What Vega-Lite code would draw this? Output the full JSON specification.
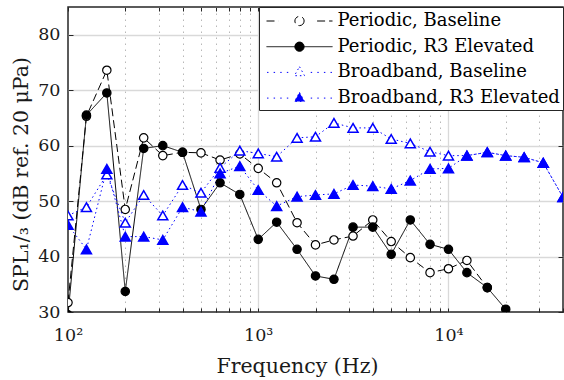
{
  "$schema": "https://vega.github.io/schema/vega-lite/v6.json",
  "width": 495,
  "height": 305,
  "autosize": {"type": "none"},
  "padding": {"left": 68, "top": 7, "right": 1, "bottom": 68},
  "background": "white",
  "config": {"view": {"stroke": "#262626", "strokeWidth": 1.5}, "font": "DejaVu Serif"},
  "data": {"values": [
    {"s": "Periodic, Baseline", "f": 100, "spl": 31.7},
    {"s": "Periodic, Baseline", "f": 125, "spl": 65.3},
    {"s": "Periodic, Baseline", "f": 160, "spl": 73.6},
    {"s": "Periodic, Baseline", "f": 200, "spl": 48.5},
    {"s": "Periodic, Baseline", "f": 250, "spl": 61.4},
    {"s": "Periodic, Baseline", "f": 315, "spl": 58.2},
    {"s": "Periodic, Baseline", "f": 400, "spl": 58.8},
    {"s": "Periodic, Baseline", "f": 500, "spl": 58.7},
    {"s": "Periodic, Baseline", "f": 630, "spl": 57.4},
    {"s": "Periodic, Baseline", "f": 800, "spl": 58.5},
    {"s": "Periodic, Baseline", "f": 1000, "spl": 55.9},
    {"s": "Periodic, Baseline", "f": 1250, "spl": 53.3},
    {"s": "Periodic, Baseline", "f": 1600, "spl": 46.1},
    {"s": "Periodic, Baseline", "f": 2000, "spl": 42.1},
    {"s": "Periodic, Baseline", "f": 2500, "spl": 43.0},
    {"s": "Periodic, Baseline", "f": 3150, "spl": 43.7},
    {"s": "Periodic, Baseline", "f": 4000, "spl": 46.6},
    {"s": "Periodic, Baseline", "f": 5000, "spl": 42.7},
    {"s": "Periodic, Baseline", "f": 6300, "spl": 39.8},
    {"s": "Periodic, Baseline", "f": 8000, "spl": 37.1},
    {"s": "Periodic, Baseline", "f": 10000, "spl": 37.8},
    {"s": "Periodic, Baseline", "f": 12500, "spl": 39.3},
    {"s": "Periodic, Baseline", "f": 16000, "spl": 34.4},
    {"s": "Periodic, R3 Elevated", "f": 100, "spl": 29.5},
    {"s": "Periodic, R3 Elevated", "f": 125, "spl": 65.5},
    {"s": "Periodic, R3 Elevated", "f": 160, "spl": 69.5},
    {"s": "Periodic, R3 Elevated", "f": 200, "spl": 33.7},
    {"s": "Periodic, R3 Elevated", "f": 250, "spl": 59.5},
    {"s": "Periodic, R3 Elevated", "f": 315, "spl": 60.0},
    {"s": "Periodic, R3 Elevated", "f": 400, "spl": 58.8},
    {"s": "Periodic, R3 Elevated", "f": 500, "spl": 48.5},
    {"s": "Periodic, R3 Elevated", "f": 630, "spl": 53.3},
    {"s": "Periodic, R3 Elevated", "f": 800, "spl": 51.2},
    {"s": "Periodic, R3 Elevated", "f": 1000, "spl": 43.1},
    {"s": "Periodic, R3 Elevated", "f": 1250, "spl": 46.2},
    {"s": "Periodic, R3 Elevated", "f": 1600, "spl": 41.3},
    {"s": "Periodic, R3 Elevated", "f": 2000, "spl": 36.5},
    {"s": "Periodic, R3 Elevated", "f": 2500, "spl": 35.9},
    {"s": "Periodic, R3 Elevated", "f": 3150, "spl": 45.3},
    {"s": "Periodic, R3 Elevated", "f": 4000, "spl": 45.3},
    {"s": "Periodic, R3 Elevated", "f": 5000, "spl": 40.4},
    {"s": "Periodic, R3 Elevated", "f": 6300, "spl": 46.6},
    {"s": "Periodic, R3 Elevated", "f": 8000, "spl": 42.2},
    {"s": "Periodic, R3 Elevated", "f": 10000, "spl": 41.3},
    {"s": "Periodic, R3 Elevated", "f": 12500, "spl": 37.1},
    {"s": "Periodic, R3 Elevated", "f": 16000, "spl": 34.4},
    {"s": "Periodic, R3 Elevated", "f": 20000, "spl": 30.5},
    {"s": "Broadband, Baseline", "f": 100, "spl": 47.4},
    {"s": "Broadband, Baseline", "f": 125, "spl": 48.9},
    {"s": "Broadband, Baseline", "f": 160, "spl": 54.8},
    {"s": "Broadband, Baseline", "f": 200, "spl": 46.1},
    {"s": "Broadband, Baseline", "f": 250, "spl": 51.1},
    {"s": "Broadband, Baseline", "f": 315, "spl": 47.4},
    {"s": "Broadband, Baseline", "f": 400, "spl": 52.9},
    {"s": "Broadband, Baseline", "f": 500, "spl": 51.5},
    {"s": "Broadband, Baseline", "f": 630, "spl": 56.0},
    {"s": "Broadband, Baseline", "f": 800, "spl": 59.1},
    {"s": "Broadband, Baseline", "f": 1000, "spl": 58.6},
    {"s": "Broadband, Baseline", "f": 1250, "spl": 58.0},
    {"s": "Broadband, Baseline", "f": 1600, "spl": 61.4},
    {"s": "Broadband, Baseline", "f": 2000, "spl": 61.6},
    {"s": "Broadband, Baseline", "f": 2500, "spl": 64.1},
    {"s": "Broadband, Baseline", "f": 3150, "spl": 63.2},
    {"s": "Broadband, Baseline", "f": 4000, "spl": 63.2},
    {"s": "Broadband, Baseline", "f": 5000, "spl": 61.2},
    {"s": "Broadband, Baseline", "f": 6300, "spl": 60.4},
    {"s": "Broadband, Baseline", "f": 8000, "spl": 58.9},
    {"s": "Broadband, Baseline", "f": 10000, "spl": 58.2},
    {"s": "Broadband, Baseline", "f": 12500, "spl": 58.2},
    {"s": "Broadband, Baseline", "f": 16000, "spl": 58.8},
    {"s": "Broadband, Baseline", "f": 20000, "spl": 58.2},
    {"s": "Broadband, Baseline", "f": 25000, "spl": 57.9},
    {"s": "Broadband, Baseline", "f": 31500, "spl": 56.9},
    {"s": "Broadband, Baseline", "f": 40000, "spl": 50.7},
    {"s": "Broadband, R3 Elevated", "f": 100, "spl": 45.7},
    {"s": "Broadband, R3 Elevated", "f": 125, "spl": 41.3},
    {"s": "Broadband, R3 Elevated", "f": 160, "spl": 55.8},
    {"s": "Broadband, R3 Elevated", "f": 200, "spl": 43.6},
    {"s": "Broadband, R3 Elevated", "f": 250, "spl": 43.6},
    {"s": "Broadband, R3 Elevated", "f": 315, "spl": 43.0},
    {"s": "Broadband, R3 Elevated", "f": 400, "spl": 48.9},
    {"s": "Broadband, R3 Elevated", "f": 500, "spl": 48.1},
    {"s": "Broadband, R3 Elevated", "f": 630, "spl": 55.0},
    {"s": "Broadband, R3 Elevated", "f": 800, "spl": 56.3},
    {"s": "Broadband, R3 Elevated", "f": 1000, "spl": 52.0},
    {"s": "Broadband, R3 Elevated", "f": 1250, "spl": 49.1},
    {"s": "Broadband, R3 Elevated", "f": 1600, "spl": 50.8},
    {"s": "Broadband, R3 Elevated", "f": 2000, "spl": 51.1},
    {"s": "Broadband, R3 Elevated", "f": 2500, "spl": 51.3},
    {"s": "Broadband, R3 Elevated", "f": 3150, "spl": 52.9},
    {"s": "Broadband, R3 Elevated", "f": 4000, "spl": 52.7},
    {"s": "Broadband, R3 Elevated", "f": 5000, "spl": 52.2},
    {"s": "Broadband, R3 Elevated", "f": 6300, "spl": 53.7},
    {"s": "Broadband, R3 Elevated", "f": 8000, "spl": 55.8},
    {"s": "Broadband, R3 Elevated", "f": 10000, "spl": 55.9},
    {"s": "Broadband, R3 Elevated", "f": 12500, "spl": 58.2},
    {"s": "Broadband, R3 Elevated", "f": 16000, "spl": 58.8},
    {"s": "Broadband, R3 Elevated", "f": 20000, "spl": 58.2},
    {"s": "Broadband, R3 Elevated", "f": 25000, "spl": 57.9},
    {"s": "Broadband, R3 Elevated", "f": 31500, "spl": 56.9},
    {"s": "Broadband, R3 Elevated", "f": 40000, "spl": 50.7}
  ]},
  "layer": [
    {
      "transform": [{"filter": "datum.f < 0"}],
      "mark": {"type": "point", "filled": true, "opacity": 1, "strokeWidth": 1.3},
      "encoding": {
        "x": {"field": "f", "type": "quantitative", "scale": {"type": "log", "domain": [100, 40000], "nice": false}, "axis": null},
        "y": {"field": "spl", "type": "quantitative", "scale": {"domain": [30, 85], "nice": false, "zero": false}, "axis": null},
        "shape": {"field": "s", "type": "nominal",
          "scale": {"domain": ["Periodic, Baseline", "Periodic, R3 Elevated", "Broadband, Baseline", "Broadband, R3 Elevated"],
            "range": [
              "M-3,0H-1.9M1.6,0H3M0.42,0A0.42,0.42,0,1,1,-0.42,0A0.42,0.42,0,1,1,0.42,0Z",
              "M-3,0H3M0.42,0A0.42,0.42,0,1,1,-0.42,0A0.42,0.42,0,1,1,0.42,0Z",
              "M-2.95,0H-2.82M-2.35,0H-2.22M-1.75,0H-1.62M-1.15,0H-1.02M1.02,0H1.15M1.62,0H1.75M2.22,0H2.35M2.82,0H2.95M0,-0.52L0.46,0.3L-0.46,0.3Z",
              "M-2.95,0H-2.82M-2.35,0H-2.22M-1.75,0H-1.62M-1.15,0H-1.02M1.02,0H1.15M1.62,0H1.75M2.22,0H2.35M2.82,0H2.95M0,-0.52L0.46,0.3L-0.46,0.3Z"
            ]},
          "legend": {"title": null, "orient": "top-right", "offset": 0,
            "symbolSize": 484, "symbolStrokeWidth": 1.3, "symbolOffset": 26.5,
            "labelExpr": "datum.label + ' '", "labelOffset": 26.5, "labelFont": "DejaVu Serif", "labelFontSize": 18, "labelColor": "#000000", "labelLimit": 400,
            "padding": 2.5, "rowPadding": 4.7, "strokeColor": "#262626", "fillColor": "#ffffff"}},
        "fill": {"field": "s", "type": "nominal",
          "scale": {"domain": ["Periodic, Baseline", "Periodic, R3 Elevated", "Broadband, Baseline", "Broadband, R3 Elevated"], "range": ["#ffffff", "#000000", "#ffffff", "#0000ff"]},
          "legend": {"title": null, "orient": "top-right", "offset": 0,
            "symbolSize": 484, "symbolStrokeWidth": 1.3, "symbolOffset": 26.5,
            "labelExpr": "datum.label + ' '", "labelOffset": 26.5, "labelFont": "DejaVu Serif", "labelFontSize": 18, "labelColor": "#000000", "labelLimit": 400,
            "padding": 2.5, "rowPadding": 4.7, "strokeColor": "#262626", "fillColor": "#ffffff"}},
        "stroke": {"field": "s", "type": "nominal",
          "scale": {"domain": ["Periodic, Baseline", "Periodic, R3 Elevated", "Broadband, Baseline", "Broadband, R3 Elevated"], "range": ["#000000", "#000000", "#0000ff", "#0000ff"]},
          "legend": {"title": null, "orient": "top-right", "offset": 0,
            "symbolSize": 484, "symbolStrokeWidth": 1.3, "symbolOffset": 26.5,
            "labelExpr": "datum.label + ' '", "labelOffset": 26.5, "labelFont": "DejaVu Serif", "labelFontSize": 18, "labelColor": "#000000", "labelLimit": 400,
            "padding": 2.5, "rowPadding": 4.7, "strokeColor": "#262626", "fillColor": "#ffffff"}}
      }
    },
    {
      "mark": {"type": "line", "clip": true},
      "encoding": {
        "x": {"field": "f", "type": "quantitative",
          "axis": {"orient": "bottom",
            "values": [100,200,300,400,500,600,700,800,900,1000,2000,3000,4000,5000,6000,7000,8000,9000,10000,20000,30000,40000],
            "labelExpr": "datum.value == 100 ? '10²' : datum.value == 1000 ? '10³' : datum.value == 10000 ? '10⁴' : ''",
            "labelOverlap": false, "labelFlush": false,
            "title": "Frequency (Hz)",
            "grid": true,
            "gridColor": {"condition": [{"test": "datum.value == 100 || datum.value == 40000", "value": "transparent"}, {"test": "datum.value == 1000 || datum.value == 10000", "value": "#d9d9d9"}], "value": "#b8b8b8"},
            "gridDash": {"condition": {"test": "datum.value == 1000 || datum.value == 10000", "value": []}, "value": [1.5, 4.5]},
            "gridWidth": {"condition": {"test": "datum.value == 1000 || datum.value == 10000", "value": 1.3}, "value": 1},
            "tickSize": -4, "tickColor": "#262626", "tickWidth": 1,
            "domain": false,
            "labelFont": "DejaVu Serif", "labelFontSize": 17.5, "labelColor": "#1a1a1a", "labelPadding": 18,
            "titleFont": "DejaVu Serif", "titleFontSize": 20.5, "titleFontWeight": "normal", "titleColor": "#1a1a1a",
            "titleX": 229, "titleY": 60, "titleBaseline": "alphabetic", "titleAlign": "center"}},
        "y": {"field": "spl", "type": "quantitative",
          "axis": {"orient": "left", "values": [30, 40, 50, 60, 70, 80],
            "title": "SPL₁/₃ (dB ref. 20 μPa)",
            "grid": true,
            "gridColor": {"condition": {"test": "datum.value == 30", "value": "transparent"}, "value": "#d9d9d9"},
            "gridWidth": 1.3,
            "tickSize": -5, "tickColor": "#262626", "domain": false,
            "labelFont": "DejaVu Serif", "labelFontSize": 17.5, "labelColor": "#1a1a1a", "labelPadding": 13,
            "titleFont": "DejaVu Serif", "titleFontSize": 20.5, "titleFontWeight": "normal", "titleColor": "#1a1a1a",
            "titleX": -47, "titleY": 167, "titleAngle": -90, "titleBaseline": "middle", "titleAlign": "center"}},
        "stroke": {"field": "s", "type": "nominal",
          "scale": {"domain": ["Periodic, Baseline", "Periodic, R3 Elevated", "Broadband, Baseline", "Broadband, R3 Elevated"], "range": ["#000000", "#000000", "#0000ff", "#0000ff"]},
          "legend": null},
        "strokeWidth": {"field": "s", "type": "ordinal",
          "scale": {"domain": ["Periodic, Baseline", "Periodic, R3 Elevated", "Broadband, Baseline", "Broadband, R3 Elevated"], "range": [1, 1, 1.6, 1.6]},
          "legend": null},
        "strokeDash": {"field": "s", "type": "nominal",
          "scale": {"domain": ["Periodic, Baseline", "Periodic, R3 Elevated", "Broadband, Baseline", "Broadband, R3 Elevated"], "range": [[8, 4], [1, 0], [1.5, 3], [1.5, 3]]},
          "legend": null}
      }
    },
    {
      "transform": [{"filter": "indexof(datum.s, 'Periodic') >= 0"}],
      "mark": {"type": "point", "shape": "circle", "filled": true, "opacity": 1, "strokeWidth": 1.2, "size": 70, "clip": true},
      "encoding": {
        "x": {"field": "f", "type": "quantitative",
          "axis": {"orient": "top",
            "values": [100,200,300,400,500,600,700,800,900,1000,2000,3000,4000,5000,6000,7000,8000,9000,10000,20000,30000,40000],
            "labels": false, "grid": false, "domain": false, "title": null, "tickSize": -4, "tickColor": "#262626"}},
        "y": {"field": "spl", "type": "quantitative",
          "axis": {"orient": "right", "values": [30, 40, 50, 60, 70, 80],
            "labels": false, "grid": false, "domain": false, "title": null, "tickSize": -5, "tickColor": "#262626"}},
        "fill": {"field": "s", "type": "nominal",
          "scale": {"domain": ["Periodic, Baseline", "Periodic, R3 Elevated", "Broadband, Baseline", "Broadband, R3 Elevated"], "range": ["#ffffff", "#000000", "#ffffff", "#0000ff"]},
          "legend": null},
        "stroke": {"field": "s", "type": "nominal",
          "scale": {"domain": ["Periodic, Baseline", "Periodic, R3 Elevated", "Broadband, Baseline", "Broadband, R3 Elevated"], "range": ["#000000", "#000000", "#0000ff", "#0000ff"]},
          "legend": null}
      }
    },
    {
      "transform": [{"filter": "indexof(datum.s, 'Broadband') >= 0"}],
      "mark": {"type": "point", "shape": "triangle-up", "filled": true, "opacity": 1, "strokeWidth": 1.5, "size": 100, "clip": true},
      "encoding": {
        "x": {"field": "f", "type": "quantitative", "axis": null},
        "y": {"field": "spl", "type": "quantitative", "axis": null},
        "fill": {"field": "s", "type": "nominal",
          "scale": {"domain": ["Periodic, Baseline", "Periodic, R3 Elevated", "Broadband, Baseline", "Broadband, R3 Elevated"], "range": ["#ffffff", "#000000", "#ffffff", "#0000ff"]},
          "legend": null},
        "stroke": {"field": "s", "type": "nominal",
          "scale": {"domain": ["Periodic, Baseline", "Periodic, R3 Elevated", "Broadband, Baseline", "Broadband, R3 Elevated"], "range": ["#000000", "#000000", "#0000ff", "#0000ff"]},
          "legend": null}
      }
    }
  ],
  "resolve": {"axis": {"x": "independent", "y": "independent"}}
}
